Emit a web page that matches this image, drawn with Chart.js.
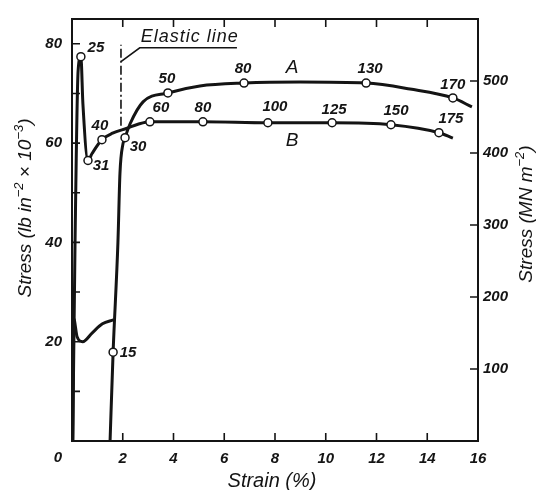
<!DOCTYPE html>
<html>
<head>
<meta charset="utf-8">
<title>Stress–strain curves</title>
<script src="https://cdn.jsdelivr.net/npm/chart.js@4/dist/chart.umd.min.js"></script>
<style>
  html, body { margin: 0; padding: 0; background: #fff; }
  canvas { display: block; }
</style>
</head>
<body>
<canvas id="chart" width="537" height="490"></canvas>
<script>
// ---- data (strain in %, stress in lb in^-2 x 10^-3) ----

// Curve B: sharp upper yield point, drop, then a flat flow plateau
const strainB = [0.03, 0.12, 0.24, 0.35, 0.43, 0.63, 0.79, 1.18, 1.6, 2.17, 2.6, 3.07, 5.16, 7.72, 10.25, 12.57, 14.46, 15.01];
const stressB = [0, 40.0, 74.5, 77.4, 67.9, 56.5, 57.9, 60.7, 62.0, 63.0, 63.8, 64.3, 64.3, 64.1, 64.1, 63.7, 62.1, 61.0];
const tagsB   = [null, null, null, '25', null, '31', null, '40', null, null, null, '60', '80', '100', '125', '150', '175', null];

// Curve A, first loading: yield and Lüders plateau up to the unloading strain
const strainA0 = [0.03, 0.07, 0.2, 0.42, 0.8, 1.2, 1.63];
const stressA0 = [0, 24.6, 21.0, 20.0, 21.8, 23.6, 24.4];

// Curve A, reloading after unloading
const strainA = [1.50, 1.62, 1.81, 1.89, 2.01, 2.09, 2.29, 2.80, 3.78, 5.04, 6.78, 8.99, 11.59, 13.32, 15.01, 15.76];
const stressA = [0, 17.9, 40.0, 53.9, 59.9, 61.1, 63.9, 68.3, 70.1, 71.5, 72.1, 72.3, 72.1, 70.9, 69.1, 67.3];
const tagsA   = [null, '15', null, null, null, '30', null, null, '50', null, '80', null, '130', null, '170', null];

// Elastic line and the leader to its caption
const elasticStrain = [1.93, 1.93];
const elasticStress = [63.5, 79.8];
const leaderStrain  = [1.93, 2.67, 6.5];
const leaderStress  = [76.4, 79.2, 79.2];

// Axis ticks
const strainTicks   = [0, 2, 4, 6, 8, 10, 12, 14, 16];
const ksiTicks      = [20, 40, 60, 80];
const ksiMinorTicks = [10, 30, 50, 70];
const mpaTicks      = [100, 200, 300, 400, 500];
const KSI_TO_MPA = 6.895;
const KSI_MAX = 85;

// ---- styling ----
const INK = '#141414';
const FONT = '"Liberation Sans", Arial, Helvetica, sans-serif';
const TICK_LEN = 8;

// label offsets (px) from each tagged point
const tagOffsetsB = { '25': [15, -9], '31': [13, 5], '40': [-2, -14], '60': [11, -14], '80': [0, -14],
                      '100': [7, -16], '125': [2, -13], '150': [5, -14], '175': [12, -14] };
const tagOffsetsA = { '15': [15, 1], '30': [13, 9], '50': [-1, -14], '80': [-1, -14], '130': [4, -14], '170': [0, -13] };

const pts = (xs, ys) => xs.map((x, i) => ({ x, y: ys[i] }));

function curve(xs, ys, tags) {
  return {
    data: pts(xs, ys),
    borderColor: INK,
    borderWidth: 3,
    cubicInterpolationMode: 'monotone',
    pointRadius: tags ? (c => (tags[c.dataIndex] ? 4 : 0)) : 0,
    pointBackgroundColor: '#fff',
    pointBorderColor: INK,
    pointBorderWidth: 1.5,
    pointHoverRadius: 0,
    fill: false,
    order: 1
  };
}

// rich text with superscripts, centred on (cx, cy), optionally rotated
function drawRich(ctx, parts, cx, cy, rot, size, style) {
  const base = `${style} ${size}px ${FONT}`;
  const sup = `${style} ${Math.round(size * 0.68)}px ${FONT}`;
  let total = 0;
  parts.forEach(p => { ctx.font = p.sup ? sup : base; total += ctx.measureText(p.t).width; });
  ctx.save();
  ctx.translate(cx, cy);
  ctx.rotate(rot);
  ctx.textAlign = 'left';
  ctx.textBaseline = 'alphabetic';
  let x = -total / 2;
  const baseY = size * 0.36;
  parts.forEach(p => {
    ctx.font = p.sup ? sup : base;
    ctx.fillText(p.t, x, p.sup ? baseY - size * 0.42 : baseY);
    x += ctx.measureText(p.t).width;
  });
  ctx.restore();
}

const decorations = {
  id: 'decorations',
  afterDatasetsDraw(chart) {
    const { ctx, chartArea: a, scales: { x, y, y2 } } = chart;
    ctx.save();
    ctx.strokeStyle = INK;
    ctx.fillStyle = INK;
    ctx.lineCap = 'butt';

    // frame
    ctx.lineWidth = 2;
    ctx.strokeRect(a.left, a.top, a.right - a.left, a.bottom - a.top);

    // inward tick marks
    ctx.lineWidth = 1.6;
    ctx.beginPath();
    strainTicks.filter(v => v > 0 && v < 16).forEach(v => {
      const px = x.getPixelForValue(v);
      ctx.moveTo(px, a.bottom); ctx.lineTo(px, a.bottom - TICK_LEN);
      ctx.moveTo(px, a.top);    ctx.lineTo(px, a.top + TICK_LEN);
    });
    ksiTicks.concat(ksiMinorTicks).forEach(v => {
      const py = y.getPixelForValue(v);
      ctx.moveTo(a.left, py); ctx.lineTo(a.left + TICK_LEN, py);
    });
    mpaTicks.forEach(v => {
      const py = y2.getPixelForValue(v);
      ctx.moveTo(a.right, py); ctx.lineTo(a.right - TICK_LEN, py);
    });
    ctx.stroke();

    // origin label, set left of the corner
    ctx.font = `italic bold 15px ${FONT}`;
    ctx.textAlign = 'center';
    ctx.textBaseline = 'middle';
    ctx.fillText('0', x.getPixelForValue(0) - 14, a.bottom + 17);

    // point tags
    const tagSets = [[0, tagsB, tagOffsetsB], [2, tagsA, tagOffsetsA]];
    tagSets.forEach(([di, tags, offs]) => {
      const meta = chart.getDatasetMeta(di);
      tags.forEach((t, i) => {
        if (!t) return;
        const p = meta.data[i];
        const o = offs[t] || [0, -14];
        ctx.fillText(t, p.x + o[0], p.y + o[1]);
      });
    });

    // curve letters
    ctx.font = `italic 19px ${FONT}`;
    ctx.fillText('A', x.getPixelForValue(8.67), y.getPixelForValue(75.2));
    ctx.fillText('B', x.getPixelForValue(8.67), y.getPixelForValue(60.5));

    // elastic line caption
    ctx.font = `italic 18px ${FONT}`;
    ctx.textAlign = 'left';
    ctx.textBaseline = 'alphabetic';
    if ('letterSpacing' in ctx) ctx.letterSpacing = '1px';
    ctx.fillText('Elastic line', x.getPixelForValue(leaderStrain[1]) + 1, y.getPixelForValue(leaderStress[1]) - 6);
    if ('letterSpacing' in ctx) ctx.letterSpacing = '0px';

    // axis titles
    drawRich(ctx, [{ t: 'Strain (%)' }], (a.left + a.right) / 2 - 3, 480, 0, 20, 'italic');
    drawRich(ctx, [{ t: 'Stress (lb in' }, { t: '−2', sup: true }, { t: ' × 10' }, { t: '−3', sup: true }, { t: ')' }],
             24, 208, -Math.PI / 2, 19, 'italic');
    drawRich(ctx, [{ t: 'Stress (MN m' }, { t: '−2', sup: true }, { t: ')' }],
             525, 214, -Math.PI / 2, 19, 'italic');
    ctx.restore();
  }
};

const tickFont = { family: FONT, size: 15, style: 'italic', weight: 'bold' };
const setTicks = vals => scale => { scale.ticks = vals.map(v => ({ value: v })); };

new Chart(document.getElementById('chart'), {
  type: 'line',
  data: {
    datasets: [
      curve(strainB, stressB, tagsB),
      curve(strainA0, stressA0, null),
      curve(strainA, stressA, tagsA),
      {
        data: pts(elasticStrain, elasticStress),
        borderColor: INK, borderWidth: 1.6, borderDash: [9, 3, 2, 3],
        pointRadius: 0, tension: 0, fill: false, order: 2
      },
      {
        data: pts(leaderStrain, leaderStress),
        borderColor: INK, borderWidth: 1.6,
        pointRadius: 0, tension: 0, fill: false, order: 2
      }
    ]
  },
  options: {
    responsive: false,
    animation: false,
    devicePixelRatio: 1,
    layout: { padding: { top: 14, left: 0, right: 0, bottom: 0 } },
    plugins: { legend: { display: false }, tooltip: { enabled: false } },
    events: [],
    scales: {
      x: {
        type: 'linear', position: 'bottom', min: 0, max: 16,
        afterBuildTicks: setTicks(strainTicks),
        afterFit: s => { s.height = 49; },
        grid: { display: false, drawTicks: false },
        border: { display: false },
        ticks: { font: tickFont, color: INK, padding: 9, maxRotation: 0,
                 callback: v => (v === 0 ? '' : String(v)) }
      },
      y: {
        type: 'linear', position: 'left', min: 0, max: KSI_MAX,
        afterBuildTicks: setTicks(ksiTicks),
        afterFit: s => { s.width = 72; },
        grid: { display: false, drawTicks: false },
        border: { display: false },
        ticks: { font: tickFont, color: INK, padding: 10 }
      },
      y2: {
        type: 'linear', position: 'right', min: 0, max: KSI_MAX * KSI_TO_MPA,
        afterBuildTicks: setTicks(mpaTicks),
        afterFit: s => { s.width = 59; },
        grid: { display: false, drawTicks: false },
        border: { display: false },
        ticks: { font: tickFont, color: INK, padding: 5 }
      }
    }
  },
  plugins: [decorations]
});
</script>
</body>
</html>
